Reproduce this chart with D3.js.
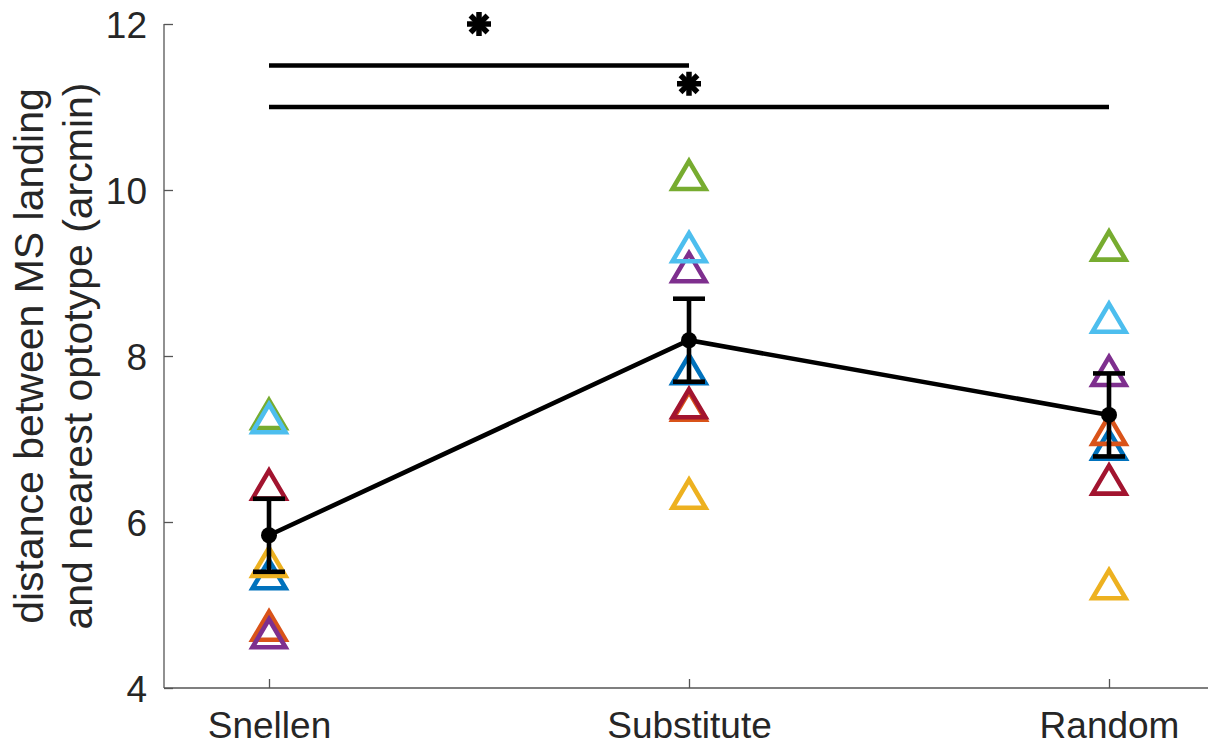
<!DOCTYPE html>
<html>
<head>
<meta charset="utf-8">
<script src="https://cdn.jsdelivr.net/npm/d3@7"></script>
<style>
  body { margin: 0; background: #fff; }
  text { font-family: "Liberation Sans", Arial, Helvetica, sans-serif; fill: #262626; }
</style>
</head>
<body>
<div id="chart"></div>
<script>
var width = 1208, height = 746;
var margin = { top: 24, left: 164, bottom: 58 };

// conditions on the x axis
var conditions = ["Snellen", "Substitute", "Random"];
var yTicks = [4, 6, 8, 10, 12];

// one colour per subject (MATLAB default order)
var subjectColors = ["#0072BD", "#D95319", "#EDB120", "#7E2F8E", "#77AC30", "#4DBEEE", "#A2142F"];
// per-subject values: [Snellen, Substitute, Random]
var subjBlue      = [5.37, 7.84, 6.93];
var subjOrange    = [4.75, 7.40, 7.11];
var subjYellow    = [5.52, 6.34, 5.25];
var subjPurple    = [4.66, 9.07, 7.82];
var subjGreen     = [7.30, 10.18, 9.33];
var subjLightBlue = [7.25, 9.31, 8.46];
var subjRed       = [6.45, 7.43, 6.51];
var subjects = [subjBlue, subjOrange, subjYellow, subjPurple, subjGreen, subjLightBlue, subjRed];

// group mean and SEM
var means = [5.84, 8.19, 7.29];
var sems = [0.44, 0.50, 0.50];

// significance bars: [from, to, bar height, star height]
var sigFrom = [0, 0];
var sigTo = [1, 2];
var sigBarY = [11.5, 11.0];
var sigStarY = [12.0, 11.28];

var svg = d3.select("#chart").append("svg")
    .attr("width", width)
    .attr("height", height);

svg.append("rect").attr("width", width).attr("height", height).attr("fill", "#fff");

var x = d3.scaleLinear().domain([-0.25, 2.25]).range([margin.left, margin.left + 1050]);
var y = d3.scaleLinear().domain([4, 12]).range([height - margin.bottom, margin.top]);

// axes (MATLAB style: left + bottom only, ticks inward)
var yAxis = svg.append("g")
    .attr("transform", "translate(" + margin.left + ",0)")
    .call(d3.axisLeft(y).tickValues(yTicks).tickSize(-9).tickPadding(17).tickFormat(d3.format("d")));
var xAxis = svg.append("g")
    .attr("transform", "translate(0," + y(4) + ")")
    .call(d3.axisBottom(x).tickValues([0, 1, 2]).tickSize(-9).tickPadding(0)
        .tickFormat(function(i) { return conditions[i]; }));

svg.selectAll(".domain").attr("stroke", "#555").attr("stroke-width", 1.3);
svg.selectAll(".tick line").attr("stroke", "#555").attr("stroke-width", 1.3);
yAxis.selectAll(".domain").attr("d", "M0," + y(12) + "V" + y(4));
xAxis.selectAll(".domain").attr("d", "M" + margin.left + ",0H" + (margin.left + 1050));
yAxis.selectAll(".tick text").attr("font-size", 37).attr("dy", "0.36em").attr("fill", "#262626");
xAxis.selectAll(".tick text").attr("font-size", 37).attr("dy", 0).attr("y", 50).attr("fill", "#262626");

// y label, two lines
var ylab = svg.append("text")
    .attr("transform", "translate(43," + ((y(4) + y(12)) / 2) + ") rotate(-90)")
    .attr("text-anchor", "middle")
    .attr("font-size", 41);
ylab.append("tspan").attr("x", 0).attr("y", 0).text("distance between MS landing");
ylab.append("tspan").attr("x", 0).attr("y", 49).text("and nearest optotype (arcmin)");

// triangle marker centred on its bounding box
var triangle = {
    draw: function(ctx, size) {
        var w = 16.5, h = 14;
        ctx.moveTo(0, -h);
        ctx.lineTo(w, h);
        ctx.lineTo(-w, h);
        ctx.closePath();
    }
};

subjects.forEach(function(vals, s) {
    svg.append("g").selectAll("path")
        .data(vals)
        .enter()
        .append("path")
        .attr("d", d3.symbol().type(triangle))
        .attr("transform", function(d, i) { return "translate(" + x(i) + "," + y(d) + ")"; })
        .attr("fill", "none")
        .attr("stroke", subjectColors[s])
        .attr("stroke-width", 4.6);
});

// mean line
svg.append("path")
    .datum(means)
    .attr("d", d3.line().x(function(d, i) { return x(i); }).y(function(d) { return y(d); }))
    .attr("fill", "none")
    .attr("stroke", "#000")
    .attr("stroke-width", 4.6);

// error bars
var eb = svg.append("g").selectAll("g")
    .data(means)
    .enter()
    .append("g");
eb.append("line")
    .attr("x1", function(d, i) { return x(i); })
    .attr("x2", function(d, i) { return x(i); })
    .attr("y1", function(d, i) { return y(d + sems[i]); })
    .attr("y2", function(d, i) { return y(d - sems[i]); })
    .attr("stroke", "#000").attr("stroke-width", 4.6);
[1, -1].forEach(function(sign) {
    eb.append("line")
        .attr("x1", function(d, i) { return x(i) - 16; })
        .attr("x2", function(d, i) { return x(i) + 16; })
        .attr("y1", function(d, i) { return y(d + sign * sems[i]); })
        .attr("y2", function(d, i) { return y(d + sign * sems[i]); })
        .attr("stroke", "#000").attr("stroke-width", 4.6);
});
eb.append("circle")
    .attr("cx", function(d, i) { return x(i); })
    .attr("cy", function(d) { return y(d); })
    .attr("r", 8)
    .attr("fill", "#000");

// significance bars and stars
sigFrom.forEach(function(a, k) {
    var b = sigTo[k];
    svg.append("line")
        .attr("x1", x(a)).attr("x2", x(b))
        .attr("y1", y(sigBarY[k])).attr("y2", y(sigBarY[k]))
        .attr("stroke", "#000").attr("stroke-width", 4.6);
    var star = svg.append("g")
        .attr("transform", "translate(" + x((a + b) / 2) + "," + y(sigStarY[k]) + ")");
    [0, 45, 90, 135].forEach(function(ang) {
        star.append("line")
            .attr("x1", 0).attr("y1", -12).attr("x2", 0).attr("y2", 12)
            .attr("transform", "rotate(" + ang + ")")
            .attr("stroke", "#000").attr("stroke-width", 5.5);
    });
    star.append("circle").attr("r", 6.5).attr("fill", "#000");
});
</script>
</body>
</html>
